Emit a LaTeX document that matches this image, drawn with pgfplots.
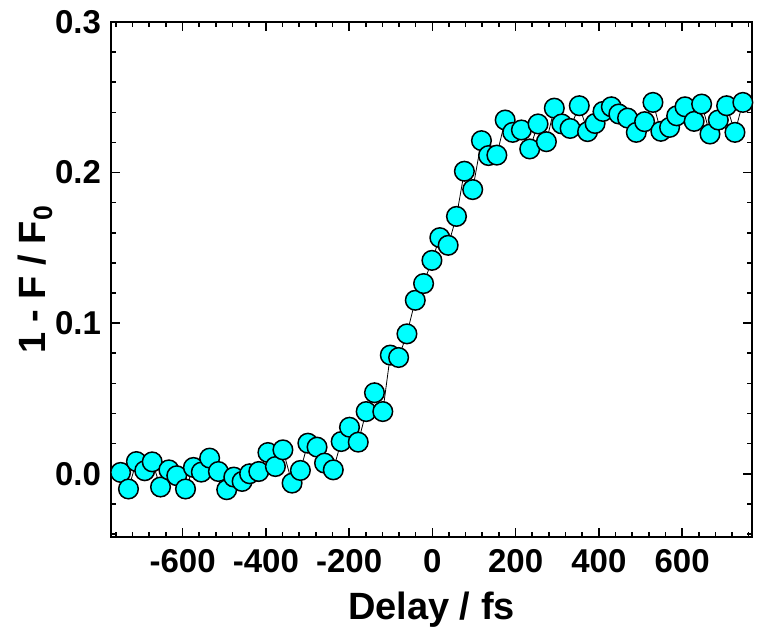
\documentclass[border=0pt]{standalone}
\usepackage{fontspec}
\setmainfont{Liberation Sans}
\usepackage{pgfplots}
\pgfplotsset{compat=1.18}
\definecolor{markcyan}{RGB}{0,255,255}
\begin{document}
\begin{tikzpicture}
\begin{axis}[
  name=main,
  scale only axis,
  width=320.5pt, height=257.5pt,
  xmin=-772, xmax=768,
  ymin=-0.042, ymax=0.3,
  axis line style={line width=1pt},
  tick style={line width=0.8pt, black},
  tick align=inside,
  major tick length=4.5pt,
  minor tick length=2.3pt,
  xtick={-600,-400,-200,0,200,400,600},
  xticklabels={-600,-400,-200,0,200,400,600},
  minor xtick={-760,-720,...,760},
  ytick={0,0.1,0.2,0.3},
  yticklabels={0.0,0.1,0.2,0.3},
  minor ytick={-0.04,-0.02,...,0.3},
  xtick pos=both, ytick pos=both,
  tick label style={font=\fontsize{16.5}{17}\selectfont\bfseries},
  xticklabel style={yshift=-2.5pt},
  yticklabel style={xshift=-1.5pt},
  label style={font=\fontsize{19}{21}\selectfont\bfseries},
  xlabel={Delay / fs},
  xlabel style={yshift=-3pt},
  ylabel={1 - F / F\textsubscript{0}},
  ylabel style={yshift=-5.5pt},
  clip=true,
]
\addplot[black, line width=0.4pt, mark=*, mark size=4.9pt,
  mark options={fill=markcyan, draw=black, line width=0.75pt, solid}]
coordinates {
(-749,0.0009)(-730,-0.0101)(-711,0.0081)(-691,0.0020)(-673,0.0079)
(-653,-0.0088)(-633,0.0026)(-614,-0.0013)(-593,-0.0101)(-574,0.0042)
(-555,0.0011)(-535,0.0104)(-514,0.0015)(-494,-0.0106)(-477,-0.0022)
(-457,-0.0051)(-439,0.0000)(-417,0.0015)(-395,0.0141)(-377,0.0048)
(-359,0.0159)(-337,-0.0062)(-317,0.0022)(-299,0.0203)(-277,0.0177)
(-259,0.0071)(-238,0.0026)(-219,0.0214)(-199,0.0309)(-178,0.0210)
(-159,0.0413)(-139,0.0538)(-119,0.0413)(-101,0.0788)(-81,0.0772)
(-61,0.0929)(-41,0.1152)(-21,0.1263)(-1,0.1417)(18,0.1568)
(38,0.1517)(58,0.1709)(77,0.2009)(97,0.1887)(118,0.2212)
(135,0.2113)(155,0.2116)(175,0.2349)(193,0.2267)(214,0.2283)
(234,0.2157)(254,0.2323)(274,0.2205)(293,0.2428)(311,0.2323)
(331,0.2293)(353,0.2444)(373,0.2272)(391,0.2326)(410,0.2406)
(430,0.2437)(448,0.2389)(469,0.2362)(490,0.2267)(510,0.2338)
(530,0.2466)(549,0.2274)(570,0.2300)(587,0.2377)(607,0.2437)
(629,0.2340)(647,0.2455)(667,0.2256)(687,0.2349)(707,0.2444)
(727,0.2267)(746,0.2466)
};
\end{axis}
\path ([xshift=-55.5pt,yshift=11pt]main.north west) rectangle ([xshift=5pt,yshift=-52.5pt]main.south east);
\end{tikzpicture}
\end{document}
